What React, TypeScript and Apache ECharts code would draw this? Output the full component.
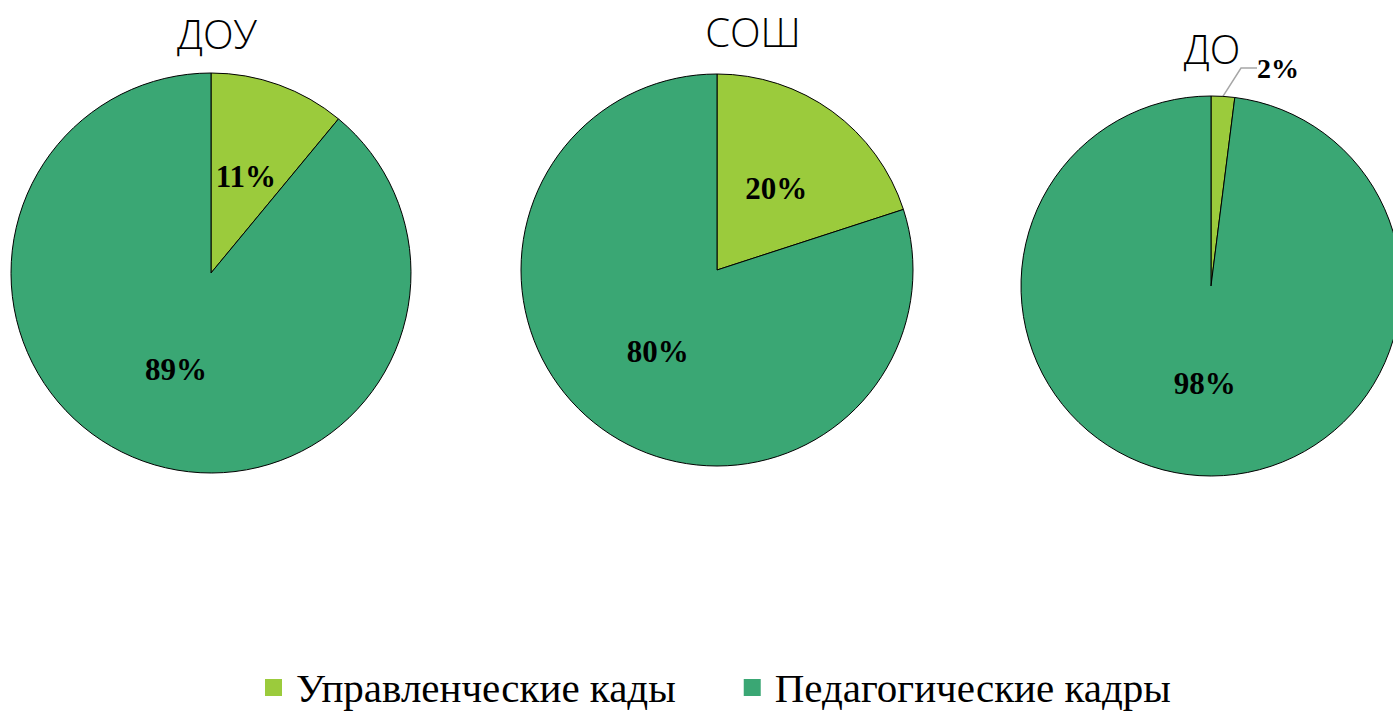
import React, { useEffect, useRef } from "react";
import * as echarts from "echarts";

const seriesNames = ["Управленческие кады", "Педагогические кадры"];
const colors = ["#9BCB3C", "#3AA774"];
const pieTitles = ["ДОУ", "СОШ", "ДО"];
const douValues = [11, 89];
const soshValues = [20, 80];
const doValues = [2, 98];

export default function App() {
  const ref = useRef<HTMLDivElement>(null);
  useEffect(() => {
    document.body.style.margin = "0";
    const chart = echarts.init(ref.current!, null, { renderer: "svg" });
    const labelStyle = {
      show: true,
      position: "inside",
      formatter: "{c}%",
      fontFamily: "Liberation Serif",
      fontWeight: "bold",
      fontSize: 31,
      color: "#000",
    };
    const mkData = (vals: number[], outsideFirst = false) =>
      vals.map((v, i) => {
        const d: any = { name: seriesNames[i], value: v, itemStyle: { color: colors[i] } };
        if (outsideFirst && i === 0) {
          d.label = { position: "outside", fontSize: 28 };
          d.labelLine = { show: true, length: 20, length2: 16, lineStyle: { color: "#A6A6A6", width: 1.5 } };
        }
        return d;
      });
    const base = {
      type: "pie",
      startAngle: 90,
      clockwise: true,
      avoidLabelOverlap: false,
      itemStyle: { borderColor: "#000", borderWidth: 1 },
      label: labelStyle,
      labelLine: { show: false },
      emphasis: { disabled: true },
    };
    const titleStyle = {
      fontFamily: "Open Sans",
      fontWeight: 300,
      fontSize: 40,
      color: "#000",
    };
    chart.setOption({
      animation: false,
      backgroundColor: "#fff",
      title: [
        { text: pieTitles[0], left: 212, top: 8, textAlign: "center", textStyle: titleStyle },
        { text: pieTitles[1], left: 748, top: 6, textAlign: "center", textStyle: titleStyle },
        { text: pieTitles[2], left: 1207, top: 23, textAlign: "center", textStyle: titleStyle },
      ],
      legend: {
        data: seriesNames,
        top: 662,
        left: 260,
        icon: "rect",
        itemWidth: 17,
        itemHeight: 17,
        itemGap: 68,
        itemStyle: { borderWidth: 0 },
        textStyle: {
          fontFamily: "Liberation Serif",
          fontSize: 41,
          color: "#000",
          padding: [0, 0, 0, 9],
        },
      },
      series: [
        { ...base, name: pieTitles[0], center: [211, 273], radius: 200, data: mkData(douValues) },
        { ...base, name: pieTitles[1], center: [717, 270], radius: 196, data: mkData(soshValues) },
        {
          ...base,
          name: pieTitles[2],
          center: [1211, 286],
          radius: 190,
          data: mkData(doValues, true),
          labelLayout: (p: any) =>
            p.dataIndex === 0 ? { x: 1257, y: 68, align: "left", verticalAlign: "middle" } : {},
        },
      ],
    });
    return () => chart.dispose();
  }, []);
  return <div ref={ref} style={{ width: 1393, height: 713 }} />;
}
